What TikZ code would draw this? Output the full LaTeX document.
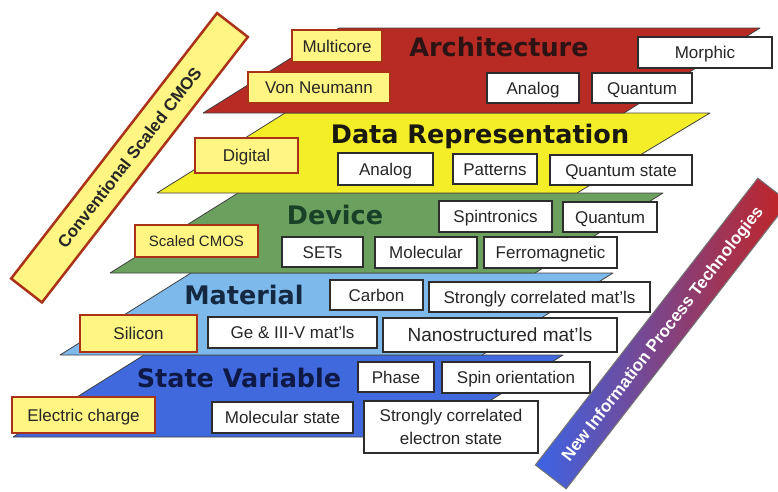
\documentclass[tikz,border=0pt]{standalone}
\usepackage{fontspec}
\setmainfont{Liberation Sans}
\newfontfamily\titlefont{DejaVu Sans}
\definecolor{archred}{RGB}{184,42,36}
\definecolor{datayel}{RGB}{244,238,40}
\definecolor{devgreen}{RGB}{108,160,95}
\definecolor{matblue}{RGB}{125,185,235}
\definecolor{stblue}{RGB}{65,105,222}
\definecolor{boxyel}{RGB}{255,245,130}
\definecolor{boxred}{RGB}{170,50,25}
\definecolor{edgegray}{RGB}{45,45,45}
\definecolor{bandblue}{RGB}{60,100,230}
\definecolor{bandpurple}{RGB}{125,75,180}
\definecolor{bandred}{RGB}{195,35,35}
\definecolor{ttlarch}{RGB}{45,20,20}
\definecolor{ttldata}{RGB}{25,25,15}
\definecolor{ttldev}{RGB}{25,65,40}
\definecolor{ttlmat}{RGB}{20,40,65}
\definecolor{ttlstate}{RGB}{15,25,70}
\begin{document}
\begin{tikzpicture}[x=1pt,y=-1pt,
  layer/.style={draw=black!75, line width=0.8pt, line join=round},
  wframe/.style={draw=edgegray, line width=1.6pt, fill=white, inner sep=0pt, text=black!85, font=\fontsize{17}{19}\selectfont, align=center},
  wbox/.style={wframe, text height=12pt, text depth=0pt},
  ybox/.style={draw=boxred, line width=2.8pt, fill=boxyel, inner sep=0pt, text=black!85, font=\fontsize{17}{19}\selectfont, text height=12pt, text depth=0pt},
  ttl/.style={font=\titlefont\bfseries\fontsize{25.5}{30}\selectfont, anchor=base, inner sep=0pt},
  band/.style={rotate=52.2, minimum height=39pt, inner sep=0pt, font=\bfseries\fontsize{17}{19}\selectfont, text height=12pt, text depth=0pt},
]
\useasboundingbox (0,0) rectangle (778,491);
\begin{scope}
\clip (0,0) rectangle (778,491);
% layers
\filldraw[layer, fill=stblue] (13,437) -- (144,355) -- (563,355) -- (432,437) -- cycle;
\filldraw[layer, fill=matblue] (60,355) -- (191,273) -- (613,273) -- (482,355) -- cycle;
\filldraw[layer, fill=devgreen] (110,273) -- (238,193) -- (663,193) -- (535,273) -- cycle;
\filldraw[layer, fill=datayel] (157,193) -- (285,113) -- (710,113) -- (577,193) -- cycle;
\filldraw[layer, fill=archred] (203,113) -- (339,28) -- (760,28) -- (624,113) -- cycle;
% titles
\node[ttl, text=ttlarch] (tarch) at (499,56) {Architecture};
\node[ttl, text=ttldata] (tdata) at (480,143) {Data Representation};
\node[ttl, text=ttldev] (tdev) at (335,224) {Device};
\node[ttl, text=ttlmat] (tmat) at (244,304) {Material};
\node[ttl, text=ttlstate] (tstate) at (239,387) {State Variable};
% yellow boxes
\node[ybox, minimum width=90pt, minimum height=32pt] (multicore) at (337,46) {Multicore};
\node[ybox, minimum width=142pt, minimum height=31pt] (vonneumann) at (319,87.5) {Von Neumann};
\node[ybox, minimum width=103pt, minimum height=35pt] (digital) at (246.5,155.5) {Digital};
\node[ybox, minimum width=123pt, minimum height=32pt, font=\fontsize{15}{17}\selectfont, text height=10.7pt] (scaledcmos) at (196.5,241) {Scaled CMOS};
\node[ybox, minimum width=117pt, minimum height=37pt] (silicon) at (138.5,333.5) {Silicon};
\node[ybox, minimum width=143pt, minimum height=36pt] (echarge) at (83.5,415) {Electric charge};
% white boxes
\node[wbox, minimum width=134pt, minimum height=31pt] (morphic) at (705,52.5) {Morphic};
\node[wbox, minimum width=92pt, minimum height=30pt] (analogA) at (533,88) {Analog};
\node[wbox, minimum width=100pt, minimum height=30pt] (quantumA) at (642,88) {Quantum};
\node[wbox, minimum width=95pt, minimum height=32pt] (analogD) at (385.5,169) {Analog};
\node[wbox, minimum width=84pt, minimum height=30pt] (patterns) at (495,169) {Patterns};
\node[wbox, minimum width=142pt, minimum height=30pt] (qstate) at (621,170) {Quantum state};
\node[wbox, minimum width=113pt, minimum height=31pt] (spintronics) at (495.5,216.5) {Spintronics};
\node[wbox, minimum width=94pt, minimum height=30pt] (quantumD) at (610,217) {Quantum};
\node[wbox, minimum width=81pt, minimum height=30pt] (sets) at (322.5,252) {SETs};
\node[wbox, minimum width=102pt, minimum height=31pt] (molecular) at (426,252.5) {Molecular};
\node[wbox, minimum width=133pt, minimum height=31pt] (ferro) at (550.5,252.5) {Ferromagnetic};
\node[wbox, minimum width=93pt, minimum height=30pt] (carbon) at (376.5,295) {Carbon};
\node[wbox, minimum width=221pt, minimum height=30pt] (scmat) at (539.5,297) {Strongly correlated mat'ls};
\node[wbox, minimum width=169pt, minimum height=31pt] (ge) at (292.5,332.5) {Ge \& III-V mat'ls};
\node[wbox, minimum width=234pt, minimum height=34pt, font=\fontsize{19}{21}\selectfont, text height=13.6pt] (nano) at (500,335) {Nanostructured mat'ls};
\node[wbox, minimum width=76pt, minimum height=30pt] (phase) at (396,377) {Phase};
\node[wbox, minimum width=148pt, minimum height=31pt] (spin) at (516,377.5) {Spin orientation};
\node[wbox, minimum width=141pt, minimum height=31pt] (molstate) at (282.5,417.5) {Molecular state};
\node[wframe, minimum width=174pt, minimum height=52pt, font=\fontsize{17}{23}\selectfont] (scelec) at (451,427) {Strongly correlated\\electron state};
% diagonal bands
\node[band, minimum width=336pt, draw=boxred, line width=2.5pt, fill=boxyel, text=black!85] (cmos) at (129.5,157.75) {Conventional Scaled CMOS};
\node[band, minimum width=363pt, draw=black!55, line width=1pt, left color=bandblue, middle color=bandpurple, right color=bandred, text=white] (nipt) at (662,333.5) {New Information Process Technologies};
\end{scope}
\end{tikzpicture}
\end{document}
